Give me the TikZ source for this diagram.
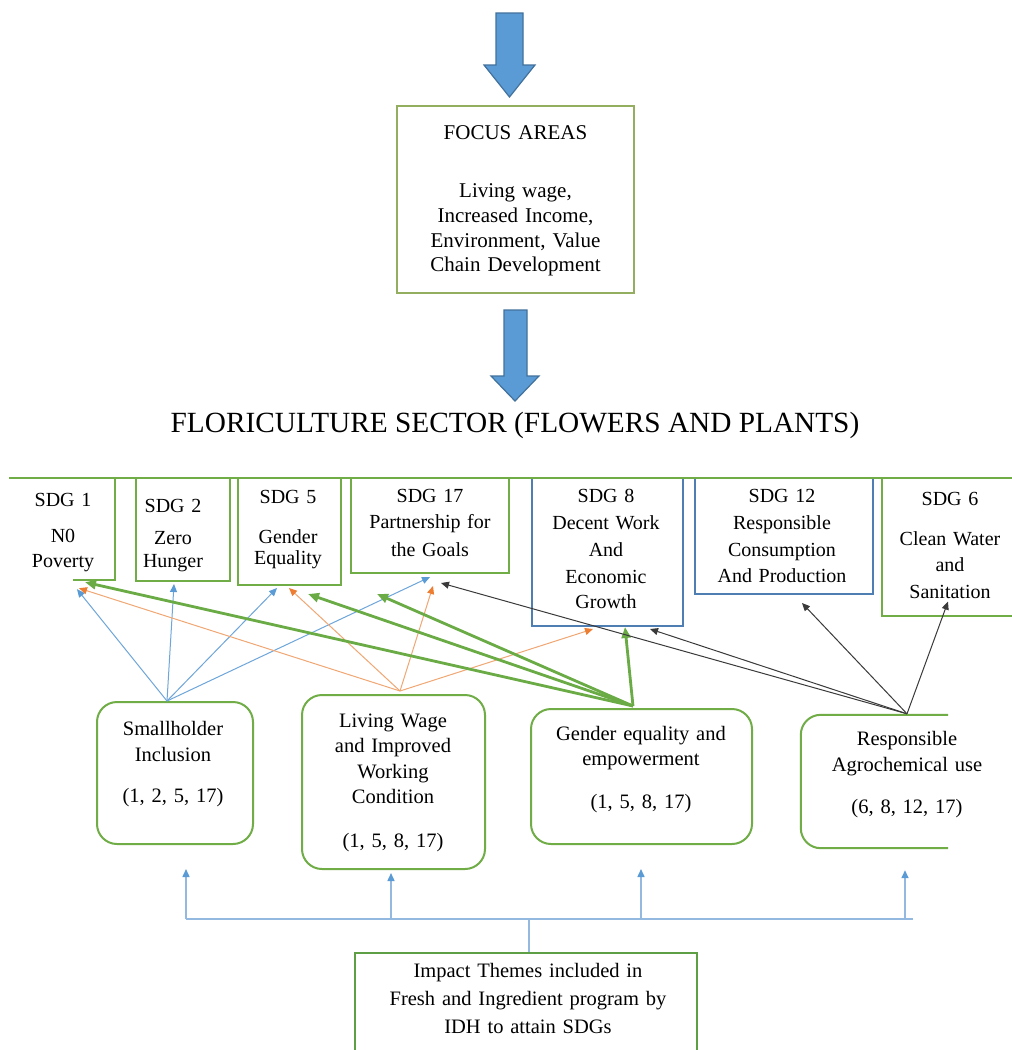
\documentclass[tikz,border=0pt]{standalone}
\usepackage{fontspec}
\setmainfont{Liberation Serif}
\usetikzlibrary{arrows.meta,calc}

\definecolor{blockfill}{HTML}{5B9BD5}
\definecolor{blockedge}{HTML}{41719C}
\definecolor{focusedge}{HTML}{93AE5E}
\definecolor{sdggreen}{HTML}{70AD47}
\definecolor{sdgblue}{HTML}{4F7EB3}
\definecolor{linkblue}{HTML}{6FA6DA}
\definecolor{tipblue}{HTML}{5B9BD5}
\definecolor{linkorange}{HTML}{F0A774}
\definecolor{tiporange}{HTML}{ED7D31}
\definecolor{linkgreen}{HTML}{6AAB45}
\definecolor{linkblack}{HTML}{3A3A3A}
\definecolor{treeblue}{HTML}{93B9E0}
\definecolor{impactedge}{HTML}{5E9E45}

\begin{document}
\begin{tikzpicture}[x=1pt,y=-1pt,
  bigarrow/.style={fill=blockfill,draw=blockedge,line width=1.2pt,line join=miter},
  plainbox/.style={rectangle,inner sep=0pt},
  focusbox/.style={plainbox,draw=focusedge,line width=1.4pt},
  sdgbox/.style={plainbox,draw=sdggreen,line width=2pt},
  sdgbluebox/.style={plainbox,draw=sdgblue,line width=2pt},
  sdgthinbox/.style={plainbox,draw=sdggreen,line width=1.3pt},
  themebox/.style={plainbox,draw=sdggreen,line width=2pt,rounded corners=20pt},
  impactbox/.style={plainbox,draw=impactedge,line width=1.3pt},
  txt/.style={anchor=base,inner sep=0pt,text width=330pt,align=center},
  sdgtxt/.style={txt,font=\fontsize{20}{26}\selectfont},
  themetxt/.style={txt,font=\fontsize{20.5}{26}\selectfont},
  bluelink/.style={draw=linkblue,line width=1pt,-{Triangle[length=8pt,width=7pt,color=tipblue]}},
  orangelink/.style={draw=linkorange,line width=1pt,-{Triangle[length=8pt,width=7pt,color=tiporange]}},
  greenlink/.style={draw=linkgreen,line width=2.8pt,-{Triangle[length=11pt,width=9pt]}},
  blacklink/.style={draw=linkblack,line width=1pt,-{Triangle[length=8pt,width=7pt]}},
  tree/.style={draw=treeblue,line width=1.5pt},
  treearrow/.style={tree,-{Triangle[length=8pt,width=7pt,color=tipblue]}}
]
\clip (0,0) rectangle (1012,1050);
\fill[white] (0,0) rectangle (1012,1050);

% block arrows above and below the focus areas
\draw[bigarrow] (496,13) -- (523,13) -- (523,65) -- (535,65) -- (509.5,97)
  -- (484,65) -- (496,65) -- cycle;
\draw[bigarrow] (504,310) -- (527,310) -- (527,376) -- (539,376) -- (515,401)
  -- (491,376) -- (504,376) -- cycle;

% focus areas
\node[focusbox,minimum width=237pt,minimum height=187pt] (focus) at (515.5,199.5) {};
\node[txt,font=\fontsize{21}{24.7}\selectfont] (focustxt) at (515.5,139)
  {FOCUS AREAS\\[34pt]Living wage,\\Increased Income,\\Environment, Value\\Chain Development};

% sector title
\node[anchor=base,inner sep=0pt,font=\fontsize{29.3}{34}\selectfont] (title) at (515,432)
  {FLORICULTURE SECTOR (FLOWERS AND PLANTS)};

% SDG boxes
\node[plainbox,minimum width=106pt,minimum height=102pt] (s1) at (62,529) {};
\draw[sdggreen,line width=2pt] (s1.north east) -- (s1.south east) -- ($(s1.south east)+(-42,0)$);
\node[sdgbox,minimum width=94pt,minimum height=103pt] (s2) at (183,529.5) {};
\node[sdgbox,minimum width=103pt,minimum height=107pt] (s5) at (289.5,531.5) {};
\node[sdgbox,minimum width=158pt,minimum height=95pt] (s17) at (430,525.5) {};
\node[sdgbluebox,minimum width=151pt,minimum height=148pt] (s8) at (607.5,552) {};
\node[sdgbluebox,minimum width=178pt,minimum height=116pt] (s12) at (784,536) {};
\node[sdgthinbox,minimum width=148pt,minimum height=138pt] (s6) at (956,547) {};
\draw[sdggreen,line width=1.5pt] (9,478) -- (1012,478);

\node[sdgtxt] (s1txt) at (63,506) {SDG 1\\[10pt]N0\\[-1pt]Poverty};
\node[sdgtxt] (s2txt) at (173,512) {SDG 2\\[6pt]Zero\\[-3pt]Hunger};
\node[sdgtxt] (s5txt) at (288,503) {SDG 5\\[14pt]Gender\\[-5pt]Equality};
\node[sdgtxt] (s17txt) at (430,502) {SDG 17\\Partnership for\\[2pt]the Goals};
\node[sdgtxt] (s8txt) at (606,502) {SDG 8\\[1pt]Decent Work\\[1pt]And\\[1pt]Economic\\[-1pt]Growth};
\node[sdgtxt] (s12txt) at (782,502) {SDG 12\\[1pt]Responsible\\[1pt]Consumption\\And Production};
\node[sdgtxt] (s6txt) at (950,505) {SDG 6\\[14pt]Clean Water\\and\\[1pt]Sanitation};

% impact theme boxes
\node[themebox,minimum width=156pt,minimum height=142pt] (sh) at (175,773) {};
\node[themebox,minimum width=183pt,minimum height=174pt] (lw) at (393.5,782) {};
\node[themebox,minimum width=221pt,minimum height=135pt] (ge) at (641.5,776.5) {};
\node[plainbox,minimum width=147pt,minimum height=133pt] (rp) at (874.5,781.5) {};
\draw[sdggreen,line width=2pt,rounded corners=20pt] (rp.north east) -| (rp.south west) -- (rp.south east);

\node[themetxt] (shtxt) at (173,735) {Smallholder\\Inclusion\\[15pt](1, 2, 5, 17)};
\node[themetxt,font=\fontsize{20.5}{25.5}\selectfont] (lwtxt) at (393,727)
  {Living Wage\\and Improved\\Working\\Condition\\[18pt](1, 5, 8, 17)};
\node[themetxt,font=\fontsize{20.5}{25.5}\selectfont] (getxt) at (641,740)
  {Gender equality and\\empowerment\\[17pt](1, 5, 8, 17)};
\node[themetxt] (rptxt) at (907,745) {Responsible\\Agrochemical use\\[16pt](6, 8, 12, 17)};

% programme box
\node[impactbox,minimum width=342pt,minimum height=107pt] (impact) at (526,1006.5) {};
\node[themetxt,font=\fontsize{20.5}{28}\selectfont] (impacttxt) at (528,977)
  {Impact Themes included in\\Fresh and Ingredient program by\\IDH to attain SDGs};

% start points of the links on each theme box
\coordinate (shTop) at ($(sh.north)+(-8,0)$);
\coordinate (lwTop) at ($(lw.north)+(6.5,-3)$);
\coordinate (geTop) at ($(ge.north)+(-8.5,-2)$);
\coordinate (rpTop) at ($(rp.north)+(32.5,-1)$);

% smallholder inclusion
\draw[bluelink] (shTop) -- ($(s1.south)+(15,9)$);
\draw[bluelink] (shTop) -- ($(s2.south)+(-9,2)$);
\draw[bluelink] (shTop) -- ($(s5.south)+(-12.5,2)$);
\draw[bluelink] (shTop) -- ($(s17.south)+(0,3)$);

% living wage
\draw[orangelink] (lwTop) -- ($(s1.south)+(17,8)$);
\draw[orangelink] (lwTop) -- ($(s5.south)+(-0.5,2)$);
\draw[orangelink] (lwTop) -- ($(s17.south)+(3,12)$);
\draw[orangelink] (lwTop) -- ($(s8.south)+(-14.5,2)$);

% gender equality
\draw[greenlink] (geTop) -- ($(s1.south)+(23,2)$);
\draw[greenlink] (geTop) -- ($(s5.south)+(18.5,8)$);
\draw[greenlink] (geTop) -- ($(s17.south)+(-53,20)$);
\draw[greenlink] (geTop) -- ($(s8.south)+(17.5,0)$);

% responsible agrochemical use
\draw[blacklink] (rpTop) -- ($(s17.south)+(11,9)$);
\draw[blacklink] (rpTop) -- ($(s8.south)+(42.5,2)$);
\draw[blacklink] (rpTop) -- ($(s12.south)+(18,8)$);
\draw[blacklink] (rpTop) -- ($(s6.south)+(-8,-15)$);

% distribution from the programme box to the themes
\coordinate (hub) at (529,919);
\coordinate (b1) at (186,919);
\coordinate (b2) at (391,919);
\coordinate (b3) at (641,919);
\coordinate (b4) at (905,919);
\coordinate (bEnd) at (913,919);
\draw[tree] (hub |- impact.north) -- (hub);
\draw[tree] (b1) -- (bEnd);
\draw[treearrow] (b1) -- ([yshift=-24pt]sh.south -| b1);
\draw[treearrow] (b2) -- ([yshift=-3pt]lw.south -| b2);
\draw[treearrow] (b3) -- ([yshift=-24pt]ge.south -| b3);
\draw[treearrow] (b4) -- ([yshift=-22pt]rp.south -| b4);
\end{tikzpicture}
\end{document}
